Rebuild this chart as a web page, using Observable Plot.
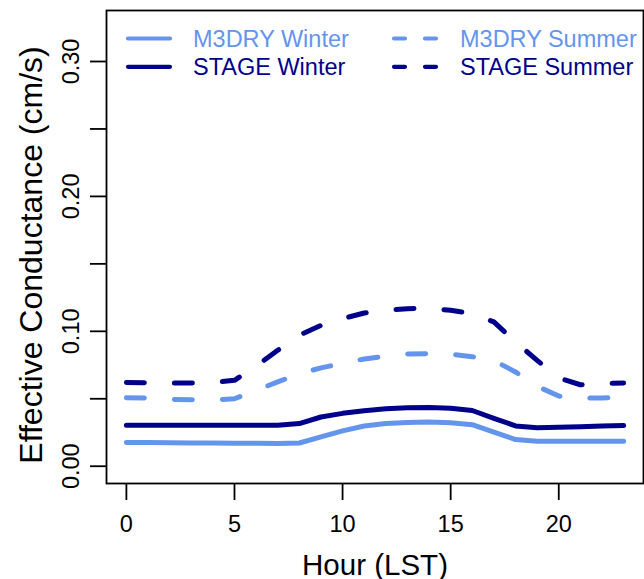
<!DOCTYPE html>
<html>
<head>
<meta charset="utf-8">
<script src="https://cdn.jsdelivr.net/npm/d3@7"></script>
<script src="https://cdn.jsdelivr.net/npm/@observablehq/plot@0.6"></script>
<style>
  html, body { margin: 0; padding: 0; background: #fff; }
  #wrap { position: relative; width: 644px; height: 579px; }
  #legend { position: absolute; left: 0; top: 0; pointer-events: none; }
</style>
</head>
<body>
<div id="wrap"></div>
<script>
// ---- data ----
const hours = [0,1,2,3,4,5,6,7,8,9,10,11,12,13,14,15,16,17,18,19,20,21,22,23];
const m3dryWinter = [0.0176,0.0175,0.0174,0.0173,0.0172,0.0171,0.0170,0.0169,0.0172,0.0218,0.0262,0.0298,0.0316,0.0325,0.0328,0.0323,0.0308,0.0252,0.0198,0.0186,0.0185,0.0185,0.0185,0.0185];
const stageWinter = [0.0304,0.0304,0.0304,0.0304,0.0304,0.0304,0.0304,0.0304,0.0316,0.0365,0.0392,0.0412,0.0426,0.0434,0.0435,0.0430,0.0413,0.0355,0.0299,0.0285,0.0289,0.0293,0.0298,0.0301];
const m3drySummer = [0.0508,0.0505,0.0496,0.0493,0.0492,0.0500,0.0563,0.0625,0.0686,0.0729,0.0762,0.0795,0.0815,0.0832,0.0835,0.0830,0.0812,0.0783,0.0699,0.0593,0.0520,0.0504,0.0506,0.0509];
const stageSummer = [0.0620,0.0619,0.0617,0.0617,0.0620,0.0637,0.0742,0.0859,0.0971,0.1044,0.1094,0.1136,0.1156,0.1168,0.1170,0.1156,0.1131,0.1070,0.0921,0.0785,0.0654,0.0604,0.0612,0.0617];

const seriesNames  = ["M3DRY Winter", "STAGE Winter", "M3DRY Summer", "STAGE Summer"];
const seriesColors = ["cornflowerblue", "darkblue", "cornflowerblue", "darkblue"];
const seriesValues = [m3dryWinter, stageWinter, m3drySummer, stageSummer];
const seriesDashed = [false, false, true, true];

const xTicks = [0, 5, 10, 15, 20];
const yTicks = [0, 0.05, 0.10, 0.15, 0.20, 0.25, 0.30];
const yLabelTicks = [0, 0.10, 0.20, 0.30];
const xTitle = "Hour (LST)";
const yTitle = "Effective Conductance (cm/s)";

// ---- build table ----
const rows = [];
seriesNames.forEach((name, s) => {
  hours.forEach((h, i) => rows.push({hour: h, value: seriesValues[s][i], series: name, dashed: seriesDashed[s]}));
});

const FONT = "'Liberation Sans', Arial, Helvetica, sans-serif";

const chart = Plot.plot({
  width: 644,
  height: 579,
  marginLeft: 106,
  marginRight: 1,
  marginTop: 10,
  marginBottom: 96,
  style: {fontFamily: FONT, fontSize: "23px", background: "white", color: "black"},
  x: {domain: [-0.92, 23.92]},
  y: {domain: [-0.0128, 0.3378]},
  color: {domain: seriesNames, range: seriesColors},
  marks: [
    Plot.line(rows.filter(d => !d.dashed), {
      x: "hour", y: "value", z: "series", stroke: "series",
      strokeWidth: 5, strokeLinecap: "round", strokeLinejoin: "round"
    }),
    Plot.line(rows.filter(d => d.dashed), {
      x: "hour", y: "value", z: "series", stroke: "series",
      strokeWidth: 5, strokeLinecap: "round", strokeLinejoin: "round",
      strokeDasharray: "18,30"
    }),
    Plot.frame({stroke: "black", strokeWidth: 1.8}),
    Plot.axisX({ticks: xTicks, tickSize: 17, tickPadding: 15, fontSize: 23.5, strokeWidth: 1.8, label: null}),
    Plot.axisY({ticks: yTicks, tickSize: 16, tickFormat: () => "", strokeWidth: 1.8, label: null}),
    Plot.axisY({ticks: yLabelTicks, tickSize: 0, tickRotate: -90, tickPadding: 28, fontSize: 23.5, tickFormat: d3.format(".2f"), label: null}),
    Plot.text([xTitle], {frameAnchor: "bottom", dy: 91, lineAnchor: "bottom", textAnchor: "middle", fontSize: 29.5, text: d => d}),
    Plot.text([yTitle], {frameAnchor: "left", dx: -87, dy: 8, rotate: -90, lineAnchor: "top", textAnchor: "middle", fontSize: 32, text: d => d})
  ]
});

const wrap = document.getElementById("wrap");
wrap.appendChild(chart);

// ---- legend inside the plot area ----
const ns = "http://www.w3.org/2000/svg";
const leg = document.createElementNS(ns, "svg");
leg.setAttribute("id", "legend");
leg.setAttribute("width", 644);
leg.setAttribute("height", 100);
const legendLayout = [
  {name: "M3DRY Winter", col: 0, row: 0},
  {name: "STAGE Winter", col: 0, row: 1},
  {name: "M3DRY Summer", col: 1, row: 0},
  {name: "STAGE Summer", col: 1, row: 1}
];
const colLineX = [[128, 170], [394, 437]];
const colTextX = [193, 460];
const rowY = [38.5, 66.8];
legendLayout.forEach(item => {
  const s = seriesNames.indexOf(item.name);
  const line = document.createElementNS(ns, "line");
  line.setAttribute("x1", colLineX[item.col][0]);
  line.setAttribute("x2", colLineX[item.col][1]);
  line.setAttribute("y1", rowY[item.row]);
  line.setAttribute("y2", rowY[item.row]);
  line.setAttribute("stroke", seriesColors[s]);
  line.setAttribute("stroke-width", 4.2);
  line.setAttribute("stroke-linecap", "round");
  if (seriesDashed[s]) line.setAttribute("stroke-dasharray", "11,20");
  leg.appendChild(line);
  const t = document.createElementNS(ns, "text");
  t.setAttribute("x", colTextX[item.col]);
  t.setAttribute("y", rowY[item.row]);
  t.setAttribute("dy", "0.35em");
  t.setAttribute("fill", seriesColors[s]);
  t.setAttribute("font-family", FONT);
  t.setAttribute("font-size", "23.5px");
  t.textContent = item.name;
  leg.appendChild(t);
});
wrap.appendChild(leg);
</script>
</body>
</html>
